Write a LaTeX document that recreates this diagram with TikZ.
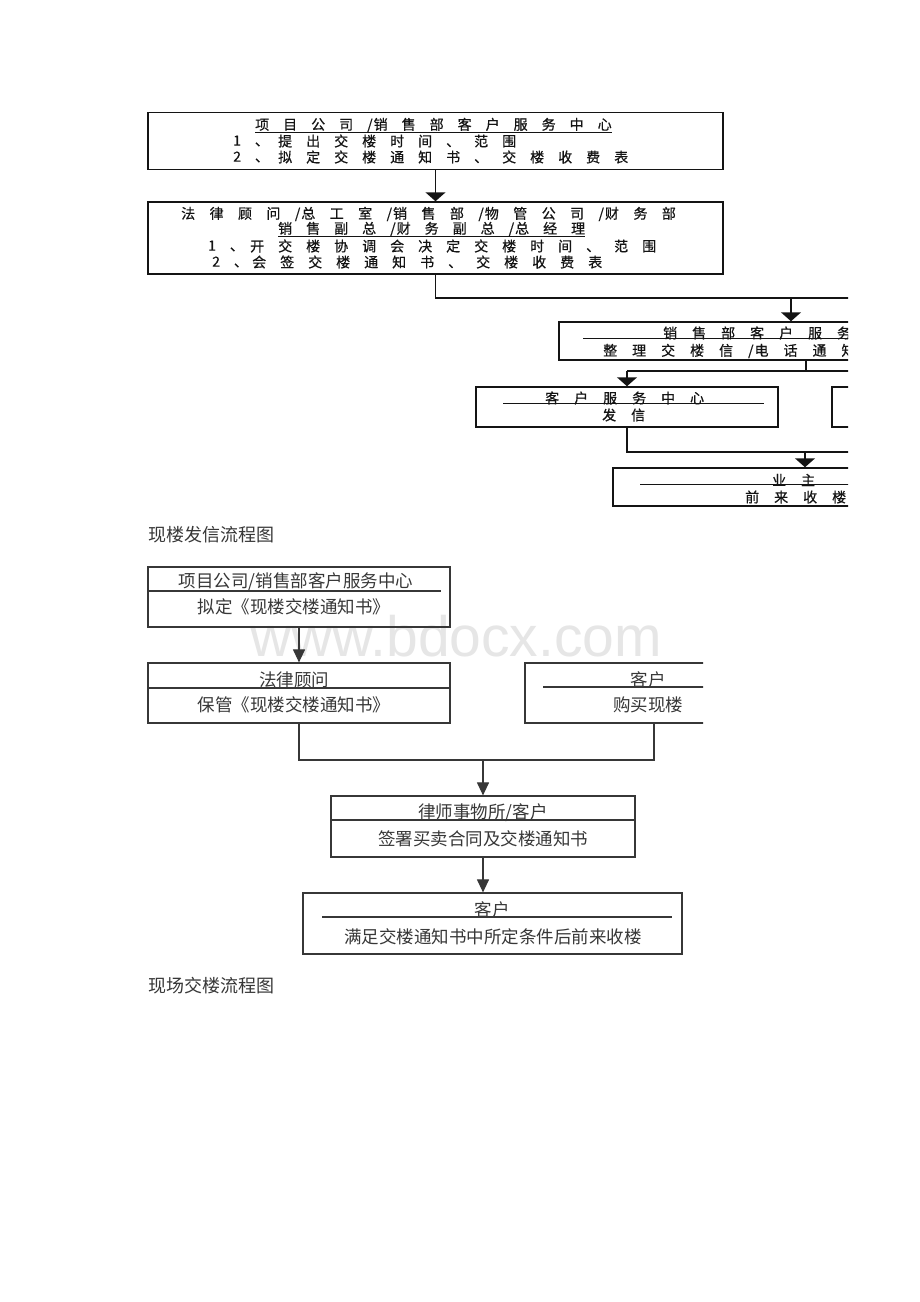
\documentclass[tikz,border=0pt]{standalone}
\usepackage{fontspec}
\usetikzlibrary{arrows.meta}
\newfontfamily\cjk{Noto Sans CJK SC}
\newfontfamily\cjkA[LetterSpace=100,FakeBold=0.6]{Noto Sans CJK SC}
\newfontfamily\cjkW[LetterSpace=103,FakeBold=0.6]{Noto Sans CJK SC}
\newfontfamily\cjkB[LetterSpace=107,FakeBold=0.6]{Noto Sans CJK SC}
\newfontfamily\wmfont{Liberation Sans}
\definecolor{ink}{RGB}{20,20,20}
\definecolor{inkB}{RGB}{55,55,55}
\definecolor{wmgray}{RGB}{230,230,230}
\newcommand\sla{/\kern1pt}
\begin{document}
\begin{tikzpicture}[x=1pt,y=-1pt,
  topbox/.style={draw=ink,line width=1.5pt,rectangle,inner sep=0pt},
  botbox/.style={draw=inkB,line width=1.2pt,rectangle,inner sep=0pt},
  ttxt/.style={inner sep=0pt,anchor=west,font=\cjkA\fontsize{14}{14}\selectfont,text=ink},
  ttxtW/.style={inner sep=0pt,anchor=west,font=\cjkW\fontsize{14}{14}\selectfont,text=ink},
  ttxtB/.style={inner sep=0pt,anchor=west,font=\cjkB\fontsize{14}{14}\selectfont,text=ink},
  btxt/.style={inner sep=0pt,font=\cjk\fontsize{17.5}{17.5}\selectfont,text=inkB},
  ttl/.style={inner sep=0pt,anchor=west,font=\cjk\fontsize{18}{18}\selectfont,text=inkB},
  tline/.style={draw=ink,line width=1.5pt},
  tdiv/.style={draw=ink,line width=1pt},
  bline/.style={draw=inkB,line width=1.1pt},
  arrT/.style={tline,-{Triangle[width=20pt,length=9pt]}},
  arrB/.style={bline,-{Triangle[width=12pt,length=13pt]}},
]
\fill[white] (0,0) rectangle (920,1302);
\useasboundingbox (0,0) rectangle (920,1302);

% watermark
\node[anchor=base west,inner sep=0pt,font=\wmfont\fontsize{57}{57}\selectfont,text=wmgray] (wm) at (250,656) {www.bdocx.com};

% ---------- top flow (clipped at right) ----------
\begin{scope}
\clip (0,0) rectangle (848,520);
\node[topbox,minimum width=575pt,minimum height=57pt] (b1) at (435.5,141) {};
\node[topbox,minimum width=575pt,minimum height=72pt] (b2) at (435.5,238) {};
\node[topbox,minimum width=494pt,minimum height=38pt] (b3) at (806,341) {};
\node[topbox,minimum width=302pt,minimum height=40pt] (b4) at (627,407) {};
\node[topbox,minimum width=302pt,minimum height=40pt] (b5) at (983,407) {};
\node[topbox,minimum width=384pt,minimum height=38pt] (b6) at (805,487) {};

\node[ttxt] (t11) at (255,125) {项目公司\sla 销售部客户服务中心};
\draw[tdiv] (t11.south west) -- (t11.south east);
\node[ttxt] (t12n) at (233,141) {1、};
\node[ttxt] (t12) at (278,141) {提出交楼时间、范围};
\node[ttxt] (t13n) at (233,157) {2、};
\node[ttxt] (t13) at (278,157) {拟定交楼通知书、交楼收费表};

\node[ttxtW] (t21) at (181,214) {法律顾问\sla 总工室\sla 销售部\sla 物管公司\sla 财务部};
\node[ttxt] (t22) at (278,229) {销售副总\sla 财务副总\sla 总经理};
\draw[tdiv] (t22.south west) -- (t22.south east);
\node[ttxt] (t23n) at (208,246) {1、};
\node[ttxt] (t23) at (250,246) {开交楼协调会决定交楼时间、范围};
\node[ttxt] (t24n) at (212,262) {2、};
\node[ttxt] (t24) at (252,262) {会签交楼通知书、交楼收费表};

\node[ttxtB] (t31) at (663,333) {销售部客户服务中心};
\draw[tdiv] (583,338) -- (1029,338);
\node[ttxtB] (t32) at (603,351) {整理交楼信\sla 电话通知};

\node[ttxtB] (t41) at (545,398) {客户服务中心};
\draw[tdiv] (503,403) -- (764,403);
\node[ttxtB] (t42) at (602,415) {发信};

\node[ttxtB] (t61) at (772,480) {业主};
\draw[tdiv] (640,484) -- (970,484);
\node[ttxtB] (t62) at (745,497) {前来收楼};

\draw[arrT] (b1.south) -- (b2.north);
\coordinate (j1) at (435.5,298);
\coordinate (e1) at (880,298);
\draw[tline] (b2.south) -- (j1) -- (e1);
\draw[arrT] ([xshift=-15pt]b3.north |- j1) -- ([xshift=-15pt]b3.north);
\coordinate (j2) at (806,371);
\coordinate (e2) at (880,371);
\draw[tline] (b3.south) -- (j2);
\draw[tline] (b4.north |- j2) -- (e2);
\draw[arrT] (b4.north |- j2) -- (b4.north);
\coordinate (j3) at (627,452);
\coordinate (e3) at (880,452);
\draw[tline] (b4.south) -- (j3) -- (e3);
\draw[arrT] (b6.north |- j3) -- (b6.north);
\end{scope}

% ---------- titles ----------
\node[ttl] (title1) at (148,535) {现楼发信流程图};
\node[ttl] (title2) at (148,986) {现场交楼流程图};

% ---------- bottom flow ----------
\begin{scope}
\clip (0,545) rectangle (703,1302);
\node[botbox,minimum width=302pt,minimum height=60pt] (A) at (299,597) {};
\node[botbox,minimum width=302pt,minimum height=60pt] (B) at (299,693) {};
\node[botbox,minimum width=258pt,minimum height=60pt] (C) at (654,693) {};
\node[botbox,minimum width=304pt,minimum height=61pt] (D) at (483,826.5) {};
\node[botbox,minimum width=379pt,minimum height=61pt] (E) at (492.5,923.5) {};

\node[btxt] (tA1) at (296,582) {项目公司/销售部客户服务中心};
\draw[bline] (148,591) -- (441,591);
\node[btxt] (tA2) at (294,607) {拟定《现楼交楼通知书》};

\node[btxt] (tB1) at (294,680) {法律顾问};
\draw[bline] (148,688) -- (450,688);
\node[btxt] (tB2) at (294,705) {保管《现楼交楼通知书》};

\node[btxt] (tC1) at (648,680) {客户};
\draw[bline] (543,687) -- (790,687);
\node[btxt] (tC2) at (648,705) {购买现楼};

\node[btxt] (tD1) at (483,813) {律师事物所/客户};
\draw[bline] (331,820) -- (635,820);
\node[btxt] (tD2) at (483,839) {签署买卖合同及交楼通知书};

\node[btxt] (tE1) at (492,910) {客户};
\draw[bline] (322,917) -- (672,917);
\node[btxt] (tE2) at (493,937) {满足交楼通知书中所定条件后前来收楼};

\draw[arrB] (A.south) -- (B.north);
\coordinate (j4) at (483,760);
\draw[bline] (B.south) |- (j4) -| (C.south);
\draw[arrB] (D.north |- j4) -- (D.north);
\draw[arrB] (D.south) -- (D.south |- E.north);
\end{scope}
\end{tikzpicture}
\end{document}
